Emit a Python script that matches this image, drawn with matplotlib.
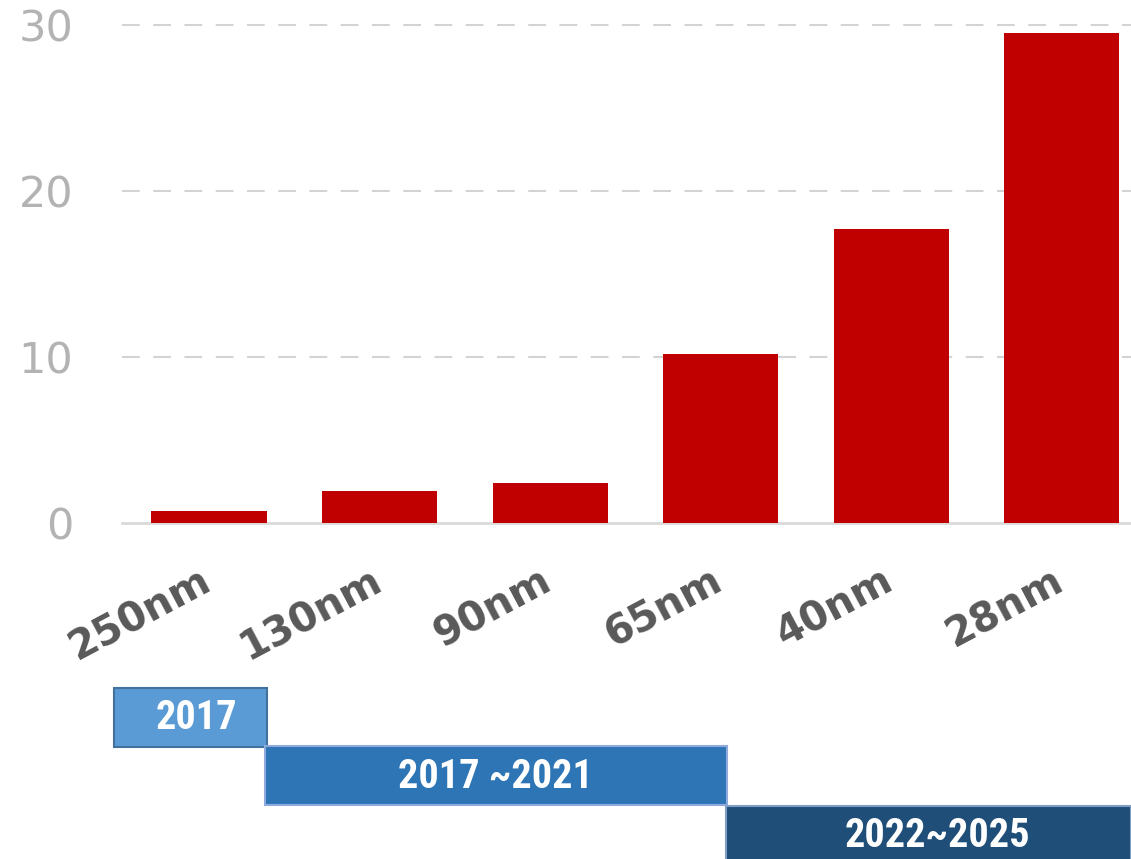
import matplotlib
matplotlib.use("Agg")
import matplotlib.pyplot as plt
from matplotlib.patches import Rectangle
import matplotlib.transforms as mtransforms
from matplotlib import font_manager as fm

categories = ["250nm", "130nm", "90nm", "65nm", "40nm", "28nm"]
values = [0.7, 1.9, 2.4, 10.2, 17.7, 29.5]
y_ticks = [0, 10, 20, 30]

period_labels = ["2017", "2017 ~2021", "2022~2025"]

W, H = 1131, 859
fig = plt.figure(figsize=(W / 100, H / 100), dpi=100)
fig.patch.set_facecolor("white")

ax = fig.add_axes([122 / W, 1 - 523 / H, 1 - 122 / W, (523 - 25) / H])
x = list(range(len(categories)))
ax.bar(x, values, width=0.675, color="#C00000", zorder=3)
ax.set_xlim(-0.51, 5.405)
ax.set_ylim(0, 30)

for v in y_ticks:
    if v == 0:
        ax.axhline(v, color="#d9d9d9", lw=2, zorder=2, clip_on=False)
    else:
        ax.axhline(v, color="#d3d3d3", lw=1.5, ls=(0, (8.5, 6.5)), zorder=1, clip_on=False)

for s in ax.spines.values():
    s.set_visible(False)

ax.set_yticks(y_ticks)
ax.set_yticklabels([str(v) for v in y_ticks], fontsize=31, color="#b3b3b3",
                   family="DejaVu Sans")
ax.tick_params(axis="y", length=0, pad=35)

ax.set_xticks(x)
ax.set_xticklabels(categories, fontsize=29, fontweight="bold", color="#595959",
                   family="DejaVu Sans", rotation=28, ha="right", va="top",
                   rotation_mode="anchor")
ax.tick_params(axis="x", length=0, pad=27)
offset = mtransforms.ScaledTranslation(-10 / 100, 0, fig.dpi_scale_trans)
for lbl in ax.get_xticklabels():
    lbl.set_transform(lbl.get_transform() + offset)

# choose a condensed face if available
cond_family = "DejaVu Sans"
names = {f.name for f in fm.fontManager.ttflist}
for cand in ["Liberation Sans Narrow", "DejaVu Sans Condensed", "Roboto Condensed",
             "Open Sans Condensed"]:
    if cand in names:
        cond_family = cand
        break
cond_stretch = "condensed"

# period boxes (figure pixel coordinates)
boxes = [
    (114, 688, 267, 747, "#5B9BD5", "#41719C"),
    (265, 746, 727, 805, "#2E75B6", "#8FAADC"),
    (726, 806, 1131, 866, "#1F4E79", "#7F9FC4"),
]
centers = [(196, 718), (495, 777), (937, 836)]
for (x0, y0, x1, y1, fc, ec), lab, (cx, cy) in zip(boxes, period_labels, centers):
    r = Rectangle((x0 / W, 1 - y1 / H), (x1 - x0) / W, (y1 - y0) / H,
                  transform=fig.transFigure, facecolor=fc, edgecolor=ec,
                  lw=1.5, clip_on=False)
    fig.add_artist(r)
    fig.text(cx / W, 1 - cy / H, lab, ha="center", va="center", color="white",
             fontsize=29, fontweight="bold", family=[cond_family, "DejaVu Sans"],
             fontstretch=cond_stretch)

fig.savefig("out.png", dpi=100, facecolor="white")
